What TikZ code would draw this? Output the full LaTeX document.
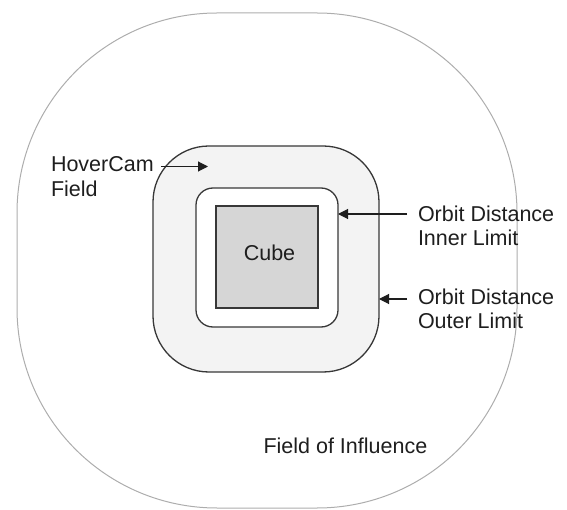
\documentclass[tikz,border=0pt]{standalone}
\usepackage{fontspec}
\setmainfont{Liberation Sans}
\usetikzlibrary{arrows.meta}
\definecolor{outerline}{HTML}{ADADAD}
\definecolor{shapeline}{HTML}{383838}
\definecolor{hoverfill}{HTML}{F3F3F3}
\definecolor{cubefill}{HTML}{D6D6D6}
\definecolor{txt}{HTML}{1E1E1E}
\tikzset{
  field/.style={draw=outerline, line width=1pt, rounded corners=200pt, inner sep=0pt, outer sep=0pt},
  zone/.style={draw=shapeline, line width=1.3pt, inner sep=0pt, outer sep=0pt},
  lbl/.style={inner sep=0pt, outer sep=0pt, text=txt, align=left, font=\fontsize{21.5}{24.5}\selectfont},
  pointer/.style={draw=txt, line width=1.1pt, -{Triangle[length=10pt,width=10pt]}}
}
\begin{document}
\begin{tikzpicture}[x=1pt,y=1pt]
\useasboundingbox (0,0) rectangle (567,-510);
% field of influence
\node[field, minimum width=500pt, minimum height=495pt] (foi) at (267,-260.5) {};
% hovercam field
\node[zone, fill=hoverfill, rounded corners=56pt, minimum width=226pt, minimum height=226pt] (hover) at (266,-259) {};
% inner limit
\node[zone, fill=white, rounded corners=17pt, minimum width=142pt, minimum height=139pt] (inner) at (267,-257.5) {};
% cube
\node[zone, fill=cubefill, minimum width=102pt, minimum height=102pt] (cube) at (267,-257) {};
\node[lbl, anchor=base] (cubetxt) at (269.5,-260.7) {Cube};
% labels
\node[lbl, anchor=north west] (hclbl) at (51,-156.5) {HoverCam\\Field};
\node[lbl, anchor=north west] (inlbl) at (418,-205.5) {Orbit Distance\\Inner Limit};
\node[lbl, anchor=north west] (outlbl) at (418,-288.5) {Orbit Distance\\Outer Limit};
\node[lbl, anchor=north west] (foilbl) at (263.5,-437.5) {Field of Influence};
% arrow end points
\coordinate (hctail) at (161,-166.5);
\coordinate (hctip) at (208,-166.5);
\coordinate (intail) at (407,-214);
\coordinate (intip) at (inner.east |- intail);
\coordinate (outtail) at (407,-299);
\coordinate (outtip) at (hover.east |- outtail);
\draw[pointer] (hctail) -- (hctip);
\draw[pointer] (intail) -- (intip);
\draw[pointer] (outtail) -- (outtip);
\end{tikzpicture}
\end{document}
